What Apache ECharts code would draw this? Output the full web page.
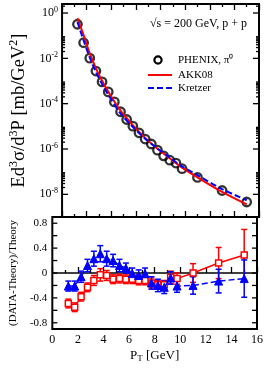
<!DOCTYPE html>
<html><head><meta charset="utf-8">
<script src="https://cdn.jsdelivr.net/npm/echarts@6/dist/echarts.min.js"></script>
<style>html,body{margin:0;padding:0;background:#fff}#c{width:266px;height:368px}</style>
</head><body><div id="c"></div>
<script>
// ---- data ----
const pt = [1.25,1.75,2.25,2.75,3.25,3.75,4.25,4.75,5.25,5.75,6.25,6.75,7.25,7.75,8.25,8.75,9.25,9.75,11,13,15];
const phenix = [0.32,0.049,0.0102,2.75e-3,9.1e-4,3.3e-4,1.2e-4,4.4e-5,2.0e-5,1.02e-5,5.2e-6,2.75e-6,1.66e-6,8.9e-7,5.0e-7,3.2e-7,2.4e-7,1.35e-7,5.6e-8,1.48e-8,4.6e-9];
const theoryPt = [1.25,1.75,2.25,2.75,3.25,3.75,4.75,5.75,6.75,7.75,8.75,9.75,11,13,15];
const akk08 = [0.6,0.105,0.0165,3.6e-3,1.03e-3,3.4e-4,4.9e-5,1.13e-5,3.1e-6,1.02e-6,3.9e-7,1.5e-7,5.6e-8,1.28e-8,3.6e-9];
const kretzer = [0.4,0.062,0.0109,2.5e-3,7.4e-4,2.5e-4,3.7e-5,9.4e-6,2.86e-6,1.05e-6,4.2e-7,1.7e-7,7.0e-8,1.7e-8,5.5e-9];
const ratioAkk = [-0.49,-0.55,-0.38,-0.23,-0.12,-0.03,-0.04,-0.1,-0.09,-0.1,-0.1,-0.12,-0.12,-0.16,-0.19,-0.19,-0.07,-0.09,0.0,0.16,0.29];
const errAkk = [0.07,0.07,0.07,0.07,0.08,0.1,0.08,0.07,0.07,0.07,0.07,0.07,0.07,0.08,0.07,0.07,0.1,0.09,0.15,0.25,0.41];
const ratioKre = [-0.21,-0.21,-0.06,0.12,0.23,0.31,0.23,0.2,0.12,0.08,-0.01,-0.04,-0.01,-0.16,-0.2,-0.23,-0.08,-0.21,-0.2,-0.13,-0.09];
const errKre = [0.08,0.08,0.09,0.1,0.12,0.13,0.12,0.1,0.1,0.08,0.09,0.09,0.09,0.1,0.1,0.1,0.1,0.1,0.14,0.19,0.3];
const topLabelExps = [0,-2,-4,-6,-8];
const topMinorMult = [2,3,4,5,6,7,8,9];
const ratioLabels = [-0.8,-0.4,0,0.4,0.8];
const ratioTicks = [-0.8,-0.6,-0.4,-0.2,0,0.2,0.4,0.6,0.8];
const legendNames = ['PHENIX, π⁰','AKK08','Kretzer'];

const FONT = 'Liberation Serif';
const RED = '#ff0000', BLUE = '#0000ff';
const zip = (a,b) => a.map((v,i)=>[v,b[i]]);

const topTickData = [];
topLabelExps.forEach(e => {
  topTickData.push([0, Math.pow(10,e), 6]);
  topMinorMult.forEach(m => { const v = m*Math.pow(10,e); if (v < 2.5) topTickData.push([0, v, 3]); });
});
const ratioTickData = ratioTicks.map(v => [0, v, 5]);

function yTickRender(params, api){
  const v = api.value(1), len = api.value(2);
  const y = api.coord([0, v])[1];
  const r = params.coordSys;
  const st = {stroke:'#000', lineWidth:1.3};
  return {type:'group', children:[
    {type:'line', shape:{x1:r.x, y1:y, x2:r.x+len, y2:y}, style:st},
    {type:'line', shape:{x1:r.x+r.width-len, y1:y, x2:r.x+r.width, y2:y}, style:st}
  ]};
}
function errRender(color){
  return function(params, api){
    const x = api.value(0), y = api.value(1), e = api.value(2);
    const p1 = api.coord([x, y+e]), p2 = api.coord([x, y-e]);
    const w = 3, st = {stroke:color, lineWidth:1.5};
    return {type:'group', children:[
      {type:'line', shape:{x1:p1[0], y1:p1[1], x2:p2[0], y2:p2[1]}, style:st},
      {type:'line', shape:{x1:p1[0]-w, y1:p1[1], x2:p1[0]+w, y2:p1[1]}, style:st},
      {type:'line', shape:{x1:p2[0]-w, y1:p2[1], x2:p2[0]+w, y2:p2[1]}, style:st}
    ]};
  };
}

const xTickCommon = {
  type:'value', min:0, max:16, interval:2,
  axisLine:{show:false}, splitLine:{show:false},
  axisTick:{show:true, inside:true, length:6, lineStyle:{color:'#000', width:1.3}},
  minorTick:{show:true, splitNumber:2, length:3, lineStyle:{color:'#000', width:1.3}},
  minorSplitLine:{show:false}
};

const chart = echarts.init(document.getElementById('c'), null, {renderer:'canvas'});
chart.setOption({
  animation:false,
  textStyle:{fontFamily:FONT},
  grid:[
    {left:41, top:4, width:218, height:213, show:true, borderColor:'#000', borderWidth:2, backgroundColor:'transparent'},
    {left:41, top:217, width:218, height:112, show:true, borderColor:'#000', borderWidth:2, backgroundColor:'transparent'}
  ],
  xAxis:[
    Object.assign({}, xTickCommon, {gridIndex:0, position:'bottom', axisLabel:{show:false}}),
    Object.assign({}, xTickCommon, {gridIndex:0, position:'top', axisLabel:{show:false}}),
    Object.assign({}, xTickCommon, {gridIndex:1, position:'bottom',
      axisLabel:{show:true, color:'#000', fontFamily:FONT, fontSize:12, margin:5},
      name:'P{sub|T} [GeV]', nameLocation:'middle', nameGap:19,
      nameTextStyle:{color:'#000', fontFamily:FONT, fontSize:13,
        rich:{sub:{fontSize:9, fontFamily:FONT, verticalAlign:'bottom', padding:[6,0,0,0]}}}})
  ],
  yAxis:[
    {gridIndex:0, type:'log', logBase:10, min:1e-9, max:2.5, interval:1,
      axisLine:{show:false}, splitLine:{show:false}, axisTick:{show:false}, minorTick:{show:false},
      axisLabel:{show:true, interval:0, color:'#000', fontFamily:FONT, fontSize:12, margin:4,
        showMinLabel:true, showMaxLabel:false,
        formatter: v => {
          const l = Math.log10(v), e = Math.round(l);
          if (Math.abs(l-e) > 1e-6 || topLabelExps.indexOf(e) < 0) return '';
          return '10{s|' + e + '}';
        },
        rich:{s:{fontSize:8, fontFamily:FONT, verticalAlign:'top', padding:[0,0,7,0]}}},
      name:'Ed{s|3}σ/d{s|3}P [mb/GeV{s|2}]', nameLocation:'middle', nameRotate:90, nameGap:18,
      nameTextStyle:{color:'#000', fontFamily:FONT, fontSize:18.5,
        rich:{s:{fontSize:12, fontFamily:FONT, verticalAlign:'top', padding:[0,0,10,0]}}}},
    {gridIndex:1, type:'value', min:-0.9, max:0.9, interval:0.1,
      axisLine:{show:false}, splitLine:{show:false}, axisTick:{show:false},
      axisLabel:{show:true, interval:0, color:'#000', fontFamily:FONT, fontSize:11, margin:5,
        formatter: v => {
          const t = Math.round(v*10);
          const hit = ratioLabels.find(r => Math.round(r*10) === t);
          if (hit === undefined) return '';
          return hit === 0 ? '0' : hit.toFixed(1);
        }},
      name:'(DATA-Theory)/Theory', nameLocation:'middle', nameRotate:90, nameGap:26,
      nameTextStyle:{color:'#000', fontFamily:FONT, fontSize:11}}
  ],
  graphic:[
    {type:'text', left:150, top:18, style:{text:'√s = 200 GeV, p + p', fill:'#000', font:'12px "Liberation Serif"'}},
    {type:'circle', shape:{cx:158, cy:60, r:3.6}, style:{fill:'none', stroke:'#000', lineWidth:2.2}},
    {type:'text', x:178, y:60, style:{text:legendNames[0], fill:'#000', font:'11px "Liberation Serif"', verticalAlign:'middle'}},
    {type:'line', shape:{x1:148, y1:75, x2:172, y2:75}, style:{stroke:RED, lineWidth:2}},
    {type:'text', x:178, y:75, style:{text:legendNames[1], fill:'#000', font:'11px "Liberation Serif"', verticalAlign:'middle'}},
    {type:'line', shape:{x1:148, y1:88, x2:172, y2:88}, style:{stroke:BLUE, lineWidth:2, lineDash:[6,3]}},
    {type:'text', x:178, y:88, style:{text:legendNames[2], fill:'#000', font:'11px "Liberation Serif"', verticalAlign:'middle'}}
  ],
  series:[
    {type:'custom', xAxisIndex:0, yAxisIndex:0, renderItem:yTickRender, data:topTickData, silent:true, clip:false, z:5},
    {type:'custom', xAxisIndex:2, yAxisIndex:1, renderItem:yTickRender, data:ratioTickData, silent:true, clip:false, z:5},
    {name:legendNames[0], type:'scatter', xAxisIndex:0, yAxisIndex:0, data:zip(pt, phenix),
      symbol:'circle', symbolSize:8.5, itemStyle:{color:'rgba(0,0,0,0)', borderColor:'#000', borderWidth:2.3}, z:2},
    {name:legendNames[1], type:'line', xAxisIndex:0, yAxisIndex:0, data:zip(theoryPt, akk08), smooth:0.3,
      showSymbol:false, symbol:'none', lineStyle:{color:RED, width:2}, itemStyle:{color:RED}, z:3},
    {name:legendNames[2], type:'line', xAxisIndex:0, yAxisIndex:0, data:zip(theoryPt, kretzer), smooth:0.3,
      showSymbol:false, symbol:'none', lineStyle:{color:BLUE, width:2, type:[6,3]}, itemStyle:{color:BLUE}, z:4},
    {name:'zero', type:'line', xAxisIndex:2, yAxisIndex:1, data:[[0,0],[16,0]], symbol:'none',
      lineStyle:{color:'#000', width:1.5}, silent:true, z:1},
    {name:'errAkk', type:'custom', xAxisIndex:2, yAxisIndex:1, renderItem:errRender(RED),
      data:pt.map((x,i)=>[x, ratioAkk[i], errAkk[i]]), z:3},
    {name:'errKre', type:'custom', xAxisIndex:2, yAxisIndex:1, renderItem:errRender(BLUE),
      data:pt.map((x,i)=>[x, ratioKre[i], errKre[i]]), z:4},
    {name:'AKK08 ratio', type:'line', xAxisIndex:2, yAxisIndex:1, data:zip(pt, ratioAkk),
      symbol:'rect', symbolSize:6, showAllSymbol:true,
      lineStyle:{color:RED, width:1.5}, itemStyle:{color:'#fff', borderColor:RED, borderWidth:1.5}, z:5},
    {name:'Kretzer ratio', type:'line', xAxisIndex:2, yAxisIndex:1, data:zip(pt, ratioKre),
      symbol:'triangle', symbolSize:8, showAllSymbol:true,
      lineStyle:{color:BLUE, width:1.5, type:[6,3]}, itemStyle:{color:BLUE, borderColor:BLUE}, z:6}
  ]
});
</script></body></html>
